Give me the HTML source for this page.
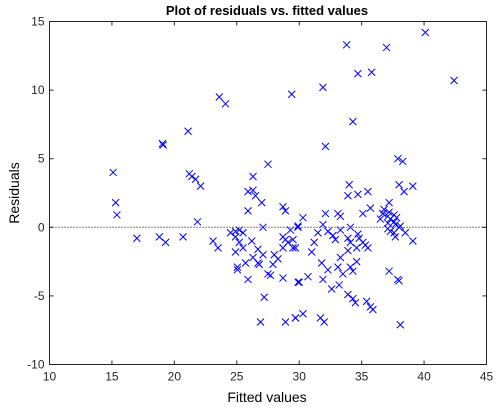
<!DOCTYPE html>
<html><head><meta charset="utf-8"><style>
html,body{margin:0;padding:0;background:#fff;}
svg{display:block;font-family:"Liberation Sans",Arial,sans-serif;}
</style></head><body>
<svg id="chart" width="499" height="408">
<rect x="0" y="0" width="499" height="408" fill="#fff"/>
<text x="267" y="15" text-anchor="middle" font-size="13" font-weight="bold">Plot of residuals vs. fitted values</text>
<text x="267" y="402" text-anchor="middle" font-size="14">Fitted values</text>
<text x="0" y="0" transform="translate(19,193) rotate(-90)" text-anchor="middle" font-size="14">Residuals</text>
<g id="ticks"></g>
<g id="marks"></g>
<rect x="49.5" y="21.5" width="437" height="343" fill="none" stroke="#262626" stroke-width="1"/>
</svg>
<script>
const xTicks=[10,15,20,25,30,35,40,45];
const yTicks=[-10,-5,0,5,10,15];
const fittedX=[15.1,15.3,15.4,17.0,18.8,19.05,19.1,19.3,20.7,21.1,21.2,21.4,21.7,21.85,22.1,23.1,23.5,23.6,24.1,24.9,24.5,25.2,25.5,24.9,25.2,25.5,26.2,24.9,26.7,27.1,25.05,25.05,25.7,26.3,26.7,26.8,27.1,27.9,28.0,28.3,27.5,27.7,25.9,28.7,28.7,28.9,29.1,28.7,29.5,29.3,28.7,28.9,29.9,27.2,26.9,28.9,29.7,29.9,25.9,26.3,26.5,25.9,27.5,26.3,27.0,29.4,31.9,32.1,33.8,34.3,34.7,35.8,37.0,40.1,42.4,37.9,38.3,
34.0,33.9,34.7,35.5,38.0,38.4,39.1,37.2,35.7,35.1,32.1,33.1,33.3,30.3,29.9,31.9,31.5,32.3,32.7,33.3,34.1,32.9,33.9,34.7,34.8,34.1,35.1,35.3,35.5,34.6,33.9,29.5,29.7,31.2,31.0,33.3,31.8,32.3,33.1,33.5,34.1,34.6,34.3,30.7,30.0,31.9,32.6,33.2,33.9,34.3,34.5,35.4,35.7,35.9,29.7,30.3,31.7,32.0,38.1,37.2,37.9,38.0,36.5,36.7,36.8,37.1,37.3,37.6,37.7,38.0,38.1,37.1,37.1,37.3,37.6,37.7,38.5,39.1,36.7,37.2,37.6,37.8];
const residualY=[4.0,1.8,0.9,-0.8,-0.7,6.1,6.0,-1.1,-0.7,7.0,3.9,3.7,3.5,0.4,3.0,-1.0,-1.5,9.5,9.0,-0.3,-0.4,-0.2,-0.4,-0.7,-1.1,-1.5,-1.0,-1.8,-1.6,0,-2.9,-3.1,-2.6,-2.2,-2.6,-2.7,-2.0,-2.7,-2.0,-2.3,-3.4,-3.5,-3.8,-3.7,-0.7,-0.9,-1.1,-1.5,-1.5,-0.2,1.5,1.2,-4.0,-5.1,-6.9,-6.9,-6.6,0,2.6,2.7,2.3,1.2,4.6,3.7,1.8,9.7,10.2,5.9,13.3,7.7,11.2,11.3,13.1,14.2,10.7,5.0,4.8,
3.1,2.3,2.4,2.6,3.1,2.6,3.0,1.8,1.4,1.0,1.0,1.0,0.8,0.7,0.1,0.2,-0.4,-0.3,-0.6,-0.2,0,-0.9,-0.8,-0.5,-0.8,-1.1,-1.1,-1.3,-1.5,-1.5,-1.7,-0.9,-1.5,-1.1,-1.8,-2.2,-2.6,-3.1,-2.9,-3.4,-2.9,-2.5,-3.2,-3.6,-4.0,-3.8,-4.5,-4.2,-4.9,-5.2,-5.5,-5.4,-5.8,-6.0,-6.6,-6.3,-6.6,-6.9,-7.1,-3.2,-3.8,-3.9,0.6,1.0,1.3,0.8,0.6,0.4,0.2,0,0.1,0.3,-0.1,-0.3,-0.4,-0.7,-0.4,-1.0,1.0,1.1,0.9,0.7];
const NS="http://www.w3.org/2000/svg";
const L=49.5,R=486.5,T=21.5,B=364.5;
function sx(v){return L+(v-10)/35*(R-L);}
function sy(v){return B-(v+10)/25*(B-T);}
const tg=document.getElementById('ticks'),mg=document.getElementById('marks');
function mk(tag,attrs,parent){const e=document.createElementNS(NS,tag);for(const k in attrs)e.setAttribute(k,attrs[k]);parent.appendChild(e);return e;}
xTicks.forEach(t=>{
  const x=sx(t);
  const l=mk('line',{x1:x,x2:x,y1:B,y2:B-4,stroke:'#262626'},tg);
  
  
  const l2=mk('line',{x1:x,x2:x,y1:T,y2:T+4,stroke:'#262626'},tg);
  
  
  const tx=mk('text',{x:x,y:B+16,'text-anchor':'middle','font-size':'12',fill:'#262626'},tg);
  tx.textContent=t;
  
  
});
yTicks.forEach(t=>{
  const y=sy(t);
  const l=mk('line',{x1:L,x2:L+4,y1:y,y2:y,stroke:'#262626'},tg);
  
  
  const l2=mk('line',{x1:R,x2:R-4,y1:y,y2:y,stroke:'#262626'},tg);
  
  
  const tx=mk('text',{x:L-5,y:y+4,'text-anchor':'end','font-size':'12',fill:'#262626'},tg);
  tx.textContent=t;
  
  
});
const zl=mk('line',{x1:L,x2:R,y1:sy(0),y2:sy(0),stroke:'#000','stroke-dasharray':'1,2'},mg);


fittedX.forEach((xv,i)=>{
  const x=sx(xv),y=sy(residualY[i]),s=3.5;
  const p=mk('path',{d:`M${x-s},${y-s}L${x+s},${y+s}M${x-s},${y+s}L${x+s},${y-s}`,stroke:'#0000ff','stroke-width':'1',fill:'none'},mg);
  
  
});
</script>
</body></html>
